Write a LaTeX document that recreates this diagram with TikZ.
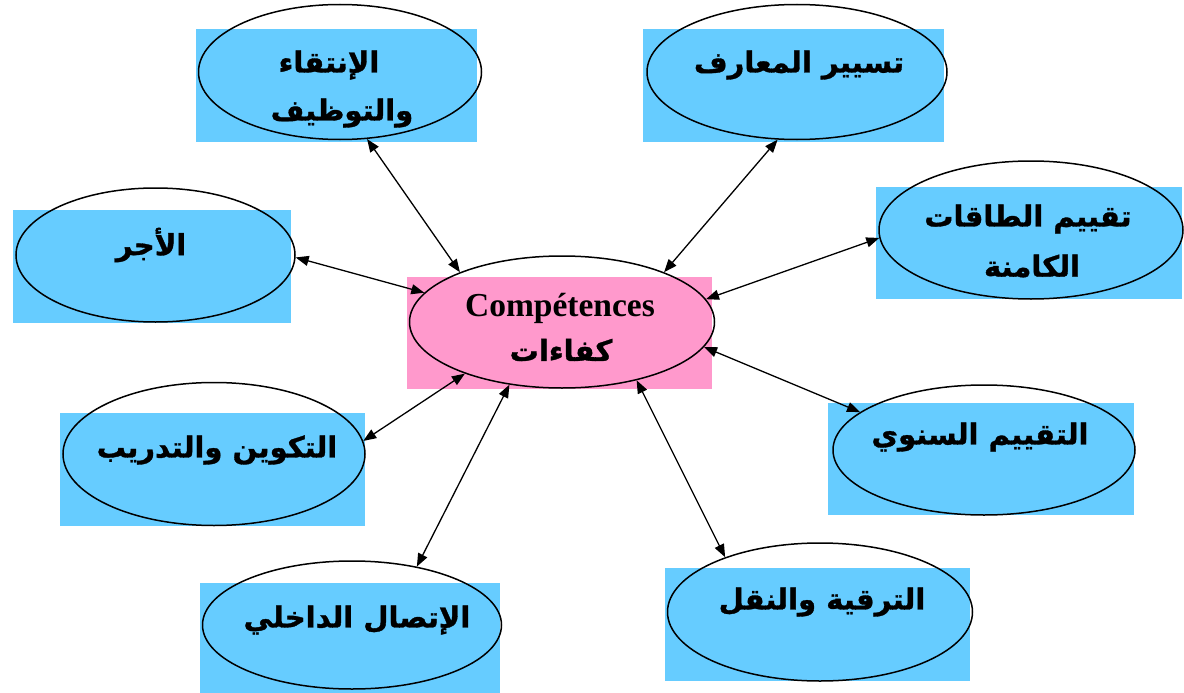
\documentclass[tikz,border=0pt]{standalone}
\usepackage{fontspec}
\usetikzlibrary{arrows.meta,shapes.geometric}
\TeXXeTstate=1
\newfontfamily\arabicfont[Script=Arabic, BoldFeatures={FakeBold=1.2}]{DejaVu Sans}
\newfontfamily\latinserif{Liberation Serif}
\definecolor{skyfill}{HTML}{66CCFF}
\definecolor{pinkfill}{HTML}{FF99CC}
\tikzset{
  panel/.style={rectangle, fill=skyfill, draw=none, inner sep=0pt},
  hubpanel/.style={rectangle, fill=pinkfill, draw=none, inner sep=0pt},
  oval/.style={ellipse, draw=black, line width=1.5pt, inner sep=0pt},
  artext/.style={inner sep=0pt, font=\arabicfont\bfseries\fontsize{29}{34}\selectfont},
  latext/.style={inner sep=0pt, font=\latinserif\bfseries\fontsize{33.5}{38}\selectfont},
  link/.style={{Triangle[length=13pt,width=10pt]}-{Triangle[length=13pt,width=10pt]}, line width=1.3pt}
}
\begin{document}
\begin{tikzpicture}[x=1pt,y=-1pt]
\useasboundingbox (0,0) rectangle (1184,693);
% coloured panels behind the ovals
\node[panel, minimum width=281pt, minimum height=113pt] (r1) at (336.5,85.5) {};
\node[panel, minimum width=301pt, minimum height=113pt] (r2) at (793.5,85.5) {};
\node[panel, minimum width=278pt, minimum height=113pt] (r3) at (152,266.5) {};
\node[panel, minimum width=306pt, minimum height=112pt] (r4) at (1029,243) {};
\node[panel, minimum width=306pt, minimum height=112pt] (r5) at (981,459) {};
\node[panel, minimum width=305pt, minimum height=113pt] (r6) at (212.5,469.5) {};
\node[panel, minimum width=300pt, minimum height=112pt] (r7) at (350,639) {};
\node[panel, minimum width=305pt, minimum height=113pt] (r8) at (817.5,624.5) {};
\node[hubpanel, minimum width=305pt, minimum height=112pt] (rc) at (559.5,333) {};
% oval outlines
\node[oval, minimum width=283pt, minimum height=135pt] (e1) at (340,72) {};
\node[oval, minimum width=300pt, minimum height=135pt] (e2) at (797,72) {};
\node[oval, minimum width=279pt, minimum height=134pt] (e3) at (155.5,255) {};
\node[oval, minimum width=304pt, minimum height=138pt] (e4) at (1031,230) {};
\node[oval, minimum width=302pt, minimum height=130pt] (e5) at (984,450) {};
\node[oval, minimum width=302pt, minimum height=143pt] (e6) at (214,454) {};
\node[oval, minimum width=299pt, minimum height=128pt] (e7) at (352,625) {};
\node[oval, minimum width=305pt, minimum height=138pt] (e8) at (820,612) {};
\node[oval, minimum width=305pt, minimum height=132pt] (ec) at (562,322) {};
% labels
\node[artext] (t1a) at (329,65) {\beginR الإنتقاء\endR};
\node[artext] (t1b) at (342,113) {\beginR والتوظيف\endR};
\node[artext] (t2) at (799,65) {\beginR تسيير المعارف\endR};
\node[artext] (t3) at (151,245) {\beginR الأجر\endR};
\node[artext] (t4a) at (1028,219) {\beginR تقييم الطاقات\endR};
\node[artext] (t4b) at (1032,266) {\beginR الكامنة\endR};
\node[artext] (t5) at (980,437) {\beginR التقييم السنوي\endR};
\node[artext] (t6) at (217,450) {\beginR التكوين والتدريب\endR};
\node[artext] (t7) at (357,620) {\beginR الإتصال الداخلي\endR};
\node[artext] (t8) at (822,602) {\beginR الترقية والنقل\endR};
\node[latext] (tca) at (560,308) {Compétences};
\node[artext] (tcb) at (561,350) {\beginR كفاءات\endR};
% two-way links to the central oval
\draw[link] (e1.-68) -- (ec.154);
\draw[link] (e2.-106) -- (ec.26);
\draw[link] (e3.-1) -- (ec.168);
\draw[link] (e4.-177) -- (ec.9);
\draw[link] (e5.163) -- (ec.-10);
\draw[link] (e6.5) -- (ec.-152);
\draw[link] (e7.42) -- (ec.-130);
\draw[link] (e8.150) -- (ec.-38);
\end{tikzpicture}
\end{document}
